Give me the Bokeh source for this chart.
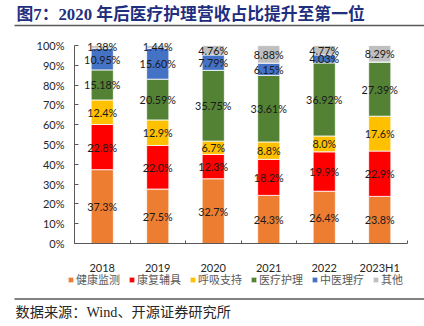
from bokeh.plotting import figure
from bokeh.models import (Range1d, LinearAxis, FixedTicker, PrintfTickFormatter, Legend,
                          LegendItem, Label, BoxAnnotation, ColumnDataSource)
from bokeh.core.properties import value
from bokeh.embed import file_html
from bokeh.resources import INLINE

categories = ["2018", "2019", "2020", "2021", "2022", "2023H1"]
series = ["健康监测", "康复辅具", "呼吸支持", "医疗护理", "中医理疗", "其他"]
health = [37.3, 27.5, 32.7, 24.3, 26.4, 23.8]
rehab = [22.8, 22.0, 12.3, 18.2, 19.9, 22.9]
resp = [12.4, 12.9, 6.7, 8.8, 8.0, 17.6]
care = [15.18, 20.59, 35.75, 33.61, 36.92, 27.39]
tcm = [10.95, 15.60, 7.79, 6.15, 4.03, 0.0]
other = [1.38, 1.44, 4.76, 8.88, 4.77, 8.29]
decimals = [1, 1, 1, 2, 2, 2]
colors = ["#ED7D31", "#FF0000", "#FFC000", "#548235", "#4472C4", "#BFBFBF"]
y_ticks = list(range(0, 101, 10))
title_text = "图7：2020 年后医疗护理营收占比提升至第一位"
source_text = "数据来源：Wind、开源证券研究所"

n = len(categories)
xpos = [i + 0.5 for i in range(n)]
keys = ["s0", "s1", "s2", "s3", "s4", "s5"]
values = [health, rehab, resp, care, tcm, other]
data = {"x": xpos}
for k, v in zip(keys, values):
    data[k] = v
src = ColumnDataSource(data)

# layout: plot area (0..n, 0..100) sits at canvas px x 74..407, y 243..45
W, H = 424, 326
PX_L, PX_R, PX_T, PX_B = 74, 407, 45, 243
sx = (PX_R - PX_L) / n
sy = (PX_B - PX_T) / 100.0
def X(px):
    return (px - PX_L) / sx
def Y(py):
    return (PX_B - py) / sy

p = figure(width=W, height=H, output_backend="svg", toolbar_location=None,
           x_range=Range1d(X(0), X(W)), y_range=Range1d(Y(H), Y(0)),
           x_axis_location=None, y_axis_location=None,
           min_border=0, min_border_left=0, min_border_right=0,
           min_border_top=0, min_border_bottom=0, outline_line_color=None)
p.xgrid.grid_line_color = None
p.ygrid.grid_line_color = None
p.background_fill_color = "white"
p.border_fill_color = "white"

renderers = p.vbar_stack(keys, x="x", width=0.4, color=colors, line_color="white",
                         line_width=0.8, source=src)

# data labels
lx, ly, lt = [], [], []
for ci in range(n):
    base = 0.0
    for si, v in enumerate(values):
        val = v[ci]
        if val > 0:
            lx.append(xpos[ci])
            ly.append(base + val / 2)
            lt.append(f"{val:.{decimals[si]}f}%")
        base += val
p.text(x=lx, y=ly, text=lt, text_align="center", text_baseline="middle",
       text_font=value("Lato"), text_font_size="10.8px", text_color="#1a1a1a")

# y axis
ya = LinearAxis(fixed_location=0, bounds=(0, 100), ticker=FixedTicker(ticks=y_ticks),
                formatter=PrintfTickFormatter(format="%d%%"),
                major_tick_in=4, major_tick_out=0, minor_tick_line_color=None,
                axis_line_color="#595959", major_tick_line_color="#595959",
                major_label_text_font="Lato", major_label_text_font_size="11px",
                major_label_text_color="#262626", major_label_standoff=10)
p.add_layout(ya, "left")

# x axis: labels at category centres, ticks at category boundaries
xa = LinearAxis(fixed_location=0, bounds=(0, n),
                ticker=FixedTicker(ticks=xpos, minor_ticks=list(range(n + 1))),
                major_label_overrides={x: c for x, c in zip(xpos, categories)},
                major_tick_line_color=None, minor_tick_in=3, minor_tick_out=0,
                minor_tick_line_color="#595959", axis_line_color="#595959",
                major_label_text_font="Lato", major_label_text_font_size="11px",
                major_label_text_color="#262626", major_label_standoff=11)
p.add_layout(xa, "below")

# legend
items = [LegendItem(label=s, renderers=[r]) for s, r in zip(series, renderers)]
legend = Legend(items=items, orientation="horizontal", location=(67, 326 - 273 - 14),
                glyph_width=7, glyph_height=7, label_standoff=2, spacing=8,
                padding=0, margin=0, border_line_color=None, background_fill_alpha=0,
                label_text_font="Noto Sans CJK SC", label_text_font_size="11px",
                label_text_color="#595959", label_height=14)
p.add_layout(legend)

# title, rules, source
p.add_layout(Label(x=X(16), y=Y(14), text=title_text,
                   text_font="'Liberation Serif', 'Noto Sans CJK SC'", text_font_style="bold",
                   text_font_size="16.8px", text_color="#1F2F80", text_baseline="middle"))
p.add_layout(BoxAnnotation(left=X(14), right=X(424), bottom=Y(25.7), top=Y(24.3),
                           fill_color="#595959", fill_alpha=1, line_color=None))
p.add_layout(BoxAnnotation(left=X(14), right=X(424), bottom=Y(299.2), top=Y(297.8),
                           fill_color="#595959", fill_alpha=1, line_color=None))
p.add_layout(Label(x=X(15), y=Y(311), text=source_text,
                   text_font="'Liberation Serif', 'Noto Sans CJK SC'",
                   text_font_size="14.2px", text_color="#262626", text_baseline="middle"))

open("out.html", "w").write(file_html(p, INLINE))
